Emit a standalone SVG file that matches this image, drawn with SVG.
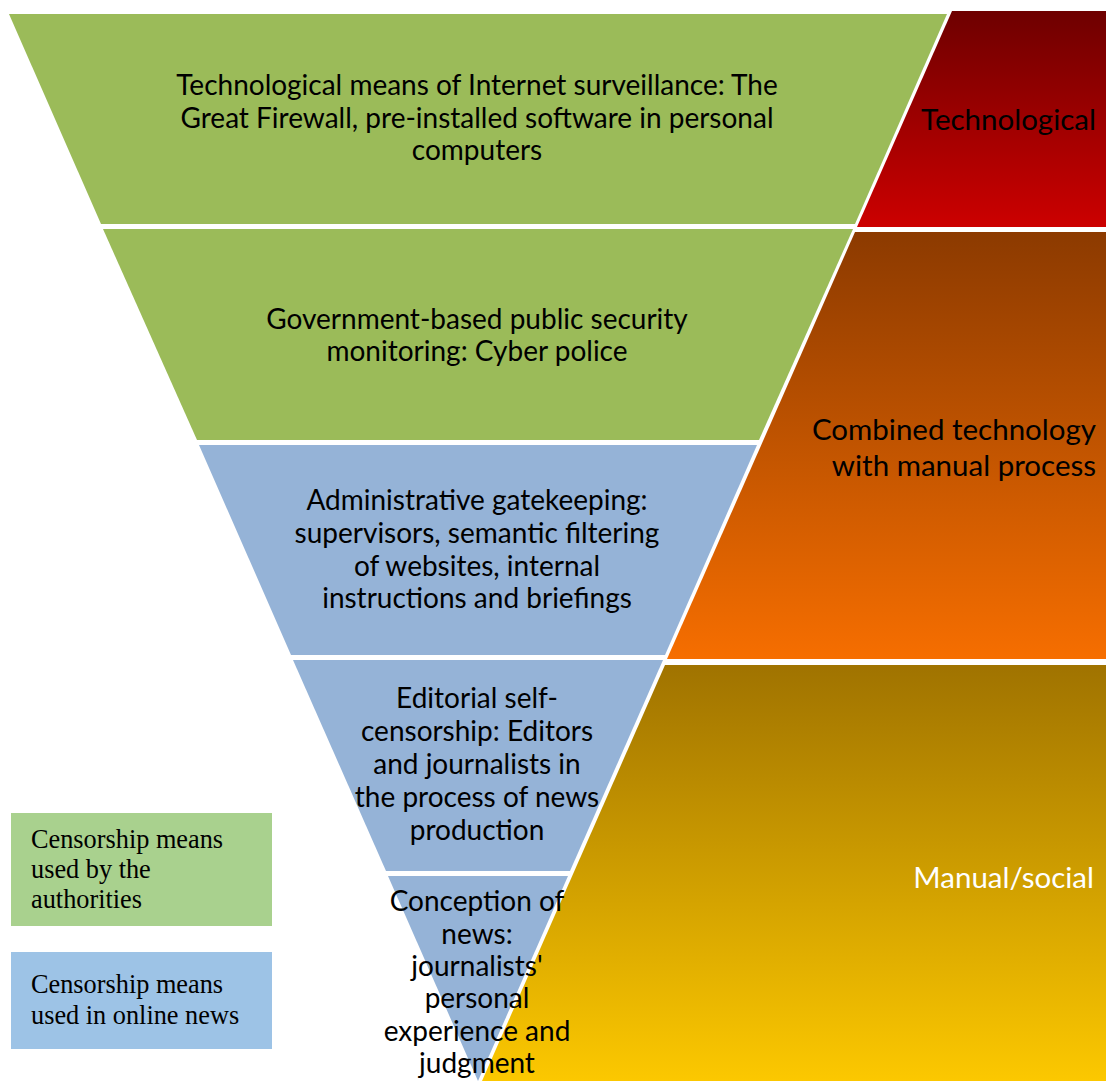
<svg xmlns="http://www.w3.org/2000/svg" width="1106" height="1081" viewBox="0 0 1106 1081">
<defs>
<linearGradient id="gRed" x1="0" y1="0" x2="0" y2="1"><stop offset="0" stop-color="#6e0000"/><stop offset="1" stop-color="#cc0000"/></linearGradient>
<linearGradient id="gOrange" x1="0" y1="0" x2="0" y2="1"><stop offset="0" stop-color="#8c3a00"/><stop offset="1" stop-color="#f66e00"/></linearGradient>
<linearGradient id="gYellow" x1="0" y1="0" x2="0" y2="1"><stop offset="0" stop-color="#a07300"/><stop offset="1" stop-color="#fcc800"/></linearGradient>
</defs>
<style>
.green{fill:#9bbb59}
.blue{fill:#95b3d7}
.t{font-family:Lato,"Open Sans",sans-serif;font-size:28px;fill:#000;text-anchor:middle}
.r{font-family:Lato,"Open Sans",sans-serif;font-size:29.5px;fill:#000;text-anchor:end}
.lg{font-family:"Liberation Serif","Times New Roman",serif;font-size:26.3px;fill:#000}
</style>
<rect width="1106" height="1081" fill="#fff"/>
<g id="side-technological">
<polygon points="952,11 1106,11 1106,227 857,227" fill="url(#gRed)"/>
<text class="r" x="1096" y="130">Technological</text>
</g>
<g id="side-combined">
<polygon points="855,232 1106,232 1106,659 667,659" fill="url(#gOrange)"/>
<text class="r" x="1096" y="440">Combined technology</text>
<text class="r" x="1096" y="476">with manual process</text>
</g>
<g id="side-manual">
<polygon points="665,665 1106,665 1106,1081 482,1081" fill="url(#gYellow)"/>
<text class="r" x="1094" y="888" style="fill:#fff">Manual/social</text>
</g>
<g id="level1">
<polygon class="green" points="9,14 947,14 855,224 101,224"/>
<text class="t" x="477" y="95">Technological means of Internet surveillance: The</text>
<text class="t" x="477" y="127.5">Great Firewall, pre-installed software in personal</text>
<text class="t" x="477" y="160">computers</text>
</g>
<g id="level2">
<polygon class="green" points="103,229 853,229 759,440 197,440"/>
<text class="t" x="477" y="329">Government-based public security</text>
<text class="t" x="477" y="361">monitoring: Cyber police</text>
</g>
<g id="level3">
<polygon class="blue" points="199,445 757,445 665,655 291,655"/>
<text class="t" x="477" y="510">Administrative gatekeeping:</text>
<text class="t" x="477" y="543">supervisors, semantic filtering</text>
<text class="t" x="477" y="576">of websites, internal</text>
<text class="t" x="477" y="608">instructions and briefings</text>
</g>
<g id="level4">
<polygon class="blue" points="293,660 663,660 570,871 386,871"/>
<text class="t" x="477" y="708">Editorial self-</text>
<text class="t" x="477" y="741">censorship: Editors</text>
<text class="t" x="477" y="774">and journalists in</text>
<text class="t" x="477" y="807">the process of news</text>
<text class="t" x="477" y="840">production</text>
</g>
<g id="level5">
<polygon class="blue" points="388,876 568,876 478,1081"/>
<text class="t" x="477" y="911">Conception of</text>
<text class="t" x="477" y="944">news:</text>
<text class="t" x="477" y="976">journalists'</text>
<text class="t" x="477" y="1008">personal</text>
<text class="t" x="477" y="1041">experience and</text>
<text class="t" x="477" y="1073">judgment</text>
</g>
<g id="legend-authorities">
<rect x="11" y="813" width="261" height="113" fill="#a9d18e"/>
<text class="lg" x="31" y="848">Censorship means</text>
<text class="lg" x="31" y="878">used by the</text>
<text class="lg" x="31" y="908">authorities</text>
</g>
<g id="legend-online">
<rect x="11" y="952" width="261" height="97" fill="#9dc3e6"/>
<text class="lg" x="31" y="993">Censorship means</text>
<text class="lg" x="31" y="1024">used in online news</text>
</g>
<g id="connectors"/>
</svg>
